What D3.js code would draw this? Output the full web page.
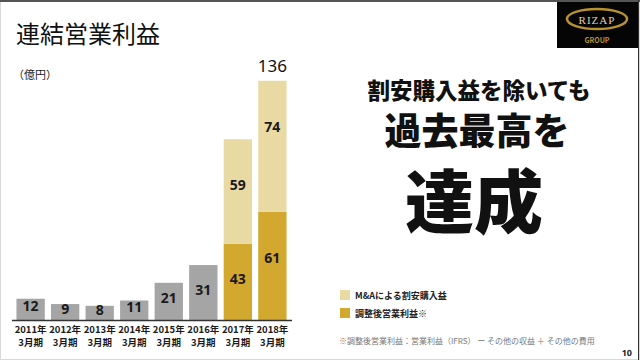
<!DOCTYPE html>
<html><head><meta charset="utf-8">
<script src="https://cdn.jsdelivr.net/npm/d3@7"></script>
<style>
html,body{margin:0;padding:0;background:#fff;}
svg{display:block;font-family:"Noto Sans CJK JP","Noto Sans",sans-serif;}
</style></head>
<body>
<svg id="c" width="640" height="360"></svg>
<script>
const years = ["2011年","2012年","2013年","2014年","2015年","2016年","2017年","2018年"];
const periodLabel = "3月期";
const operatingProfit = [12, 9, 8, 11, 21, 31, null, null];   // gray bars
const adjustedProfit = [null, null, null, null, null, null, 43, 61]; // dark gold
const bargainGain = [null, null, null, null, null, null, 59, 74];   // light gold
const totalLabel = {year: "2018年", value: 136};
const legendItems = ["M&Aによる割安購入益", "調整後営業利益※"];

const svg = d3.select("#c");
const W = 640, H = 360;

// frame
svg.append("rect").attr("x",0.5).attr("y",0.5).attr("width",W-1).attr("height",H-1)
  .attr("fill","none").attr("stroke","#d8d8d8");
svg.append("line").attr("x1",0).attr("x2",W).attr("y1",1).attr("y2",1).attr("stroke","#555").attr("stroke-width",2);
svg.append("line").attr("x1",W-1.5).attr("x2",W-1.5).attr("y1",0).attr("y2",H).attr("stroke","#333").attr("stroke-width",1);

// title
svg.append("text").attr("x",16).attr("y",43).attr("font-size",24).attr("fill","#111")
  .text("連結営業利益");
svg.append("text").attr("x",13).attr("y",79).attr("font-size",11).attr("fill","#222")
  .text("（億円）");

// logo
const logo = svg.append("g");
logo.append("rect").attr("x",557).attr("y",2).attr("width",81).attr("height",46).attr("fill","#050505");
logo.append("ellipse").attr("cx",597).attr("cy",19).attr("rx",30).attr("ry",10)
  .attr("fill","none").attr("stroke","#b8922e").attr("stroke-width",2.5);
logo.append("rect").attr("x",577).attr("y",13).attr("width",40).attr("height",12).attr("fill","#050505");
logo.append("text").attr("x",597).attr("y",23.5).attr("text-anchor","middle").attr("font-size",11)
  .attr("font-family","'Liberation Serif',serif").attr("letter-spacing",1).attr("fill","#e0d0b0").text("RIZAP");
logo.append("text").attr("x",597).attr("y",43).attr("text-anchor","middle").attr("font-size",7)
  .attr("font-weight","bold").attr("fill","#b8922e").text("GROUP");

// chart
const baseY = 320;
const x = d3.scaleBand().domain(years).range([13, 290]).paddingInner(0.18).paddingOuter(0.1);
const y = d3.scaleLinear().domain([0, 136]).range([baseY, 79]);

const colGray = "#a5a5a5", colDark = "#d3a82e", colLight = "#e9d9a3";

const segs = [];
years.forEach((yr,i)=>{
  if (operatingProfit[i] != null) segs.push({yr, y0:0, y1:operatingProfit[i], v:operatingProfit[i], c:colGray});
  if (adjustedProfit[i] != null) segs.push({yr, y0:0, y1:adjustedProfit[i], v:adjustedProfit[i], c:colDark});
  if (bargainGain[i] != null) segs.push({yr, y0:adjustedProfit[i], y1:adjustedProfit[i]+bargainGain[i], v:bargainGain[i], c:colLight});
});

svg.append("g").selectAll("rect").data(segs).join("rect")
  .attr("x", d=>x(d.yr)).attr("width", x.bandwidth())
  .attr("y", d=>y(d.y1)).attr("height", d=>y(d.y0)-y(d.y1))
  .attr("fill", d=>d.c);

svg.append("g").selectAll("text").data(segs).join("text")
  .attr("x", d=>x(d.yr)+x.bandwidth()/2)
  .attr("y", d=>{const top=y(d.y1), bot=y(d.y0); return Math.min((top+bot)/2-3, top+46)+5;})
  .attr("text-anchor","middle").attr("font-size",14).attr("font-weight","bold")
  .attr("font-family","'Noto Sans',sans-serif").attr("fill","#1a1a1a")
  .text(d=>d.v);

svg.append("text").attr("x", x(totalLabel.year)+x.bandwidth()/2).attr("y",72)
  .attr("text-anchor","middle").attr("font-size",17).attr("font-family","'Noto Sans',sans-serif")
  .attr("fill","#111").text(totalLabel.value);

// axis
const ax = svg.append("g").attr("transform",`translate(0,${baseY})`)
  .call(d3.axisBottom(x).tickSize(0).tickPadding(0).tickFormat(()=>""));
ax.select(".domain").attr("d","M12,0.5H292").attr("stroke","#333").attr("stroke-width",1.5);
ax.selectAll(".tick text").remove();
const lab = svg.append("g").selectAll("text").data(years).join("text")
  .attr("x", d=>x(d)+x.bandwidth()/2).attr("text-anchor","middle")
  .attr("font-size",9.5).attr("font-weight","bold").attr("fill","#1a1a1a");
lab.append("tspan").attr("x", d=>x(d)+x.bandwidth()/2).attr("y",333).text(d=>d);
lab.append("tspan").attr("x", d=>x(d)+x.bandwidth()/2).attr("y",346).text(periodLabel);

// right message
svg.append("text").attr("x",479).attr("y",99).attr("text-anchor","middle").attr("font-size",22.5)
  .attr("font-weight",900).attr("fill","#111").text("割安購入益を除いても");
svg.append("text").attr("x",477).attr("y",145).attr("text-anchor","middle").attr("font-size",37)
  .attr("font-weight",900).attr("fill","#111").text("過去最高を");
svg.append("text").attr("x",474).attr("y",228).attr("text-anchor","middle").attr("font-size",69)
  .attr("font-weight",900).attr("fill","#111").text("達成");

// legend
const lg = svg.append("g").selectAll("g").data(legendItems).join("g")
  .attr("transform",(d,i)=>`translate(340,${290+i*18})`);
lg.append("rect").attr("width",10).attr("height",10).attr("fill",(d,i)=>i===0?colLight:colDark);
lg.append("text").attr("x",15).attr("y",9).attr("font-size",9).attr("font-weight","bold")
  .attr("fill","#222").text(d=>d);

svg.append("text").attr("x",339).attr("y",344).attr("font-size",8).attr("fill","#777")
  .text("※調整後営業利益：営業利益（IFRS） ー その他の収益 ＋ その他の費用");
svg.append("text").attr("x",632).attr("y",356).attr("text-anchor","end").attr("font-size",9)
  .attr("font-weight","bold").attr("font-family","'Noto Sans',sans-serif").attr("fill","#222").text("10");
</script>
</body></html>
